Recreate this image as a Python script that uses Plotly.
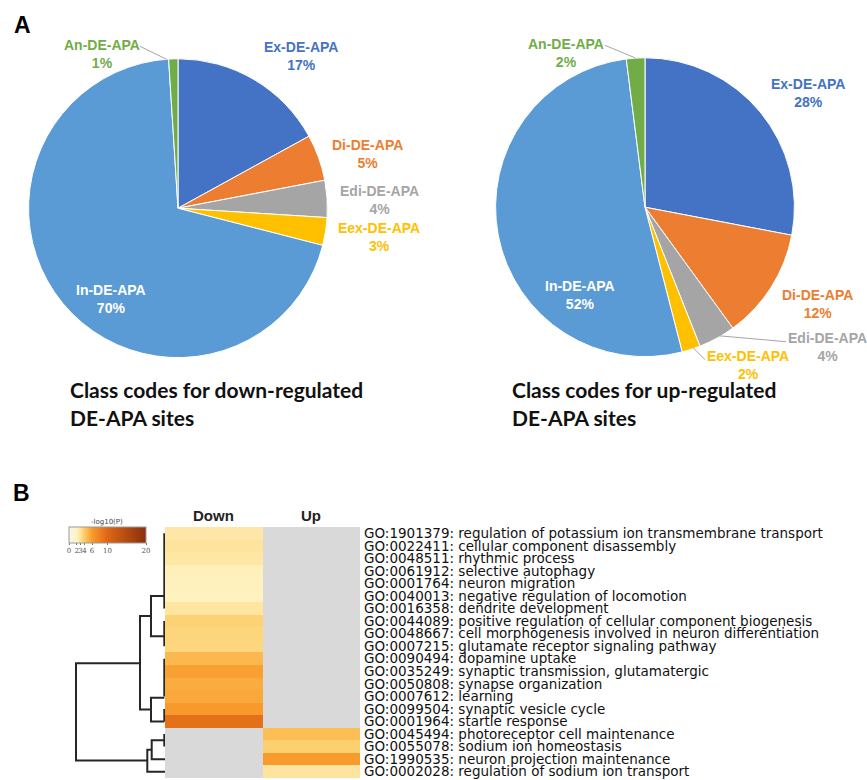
import plotly.graph_objects as go

W, H = 867, 780


def fx(px):
    return px / W


def fy(py):
    return 1 - py / H


# ---- Panel A: class codes of DE-APA sites ----
classes = ["Ex-DE-APA", "Di-DE-APA", "Edi-DE-APA", "Eex-DE-APA", "In-DE-APA", "An-DE-APA"]
class_colors = ["#4472C4", "#ED7D31", "#A5A5A5", "#FFC000", "#5B9BD5", "#70AD47"]
label_colors = ["#4472C4", "#ED7D31", "#A5A5A5", "#FFC000", "#FFFFFF", "#70AD47"]
down_pct = [17, 5, 4, 3, 70, 1]
up_pct = [28, 12, 4, 2, 52, 2]

# ---- Panel B: GO enrichment heatmap (-log10 P) ----
go_terms = [
    "GO:1901379: regulation of potassium ion transmembrane transport",
    "GO:0022411: cellular component disassembly",
    "GO:0048511: rhythmic process",
    "GO:0061912: selective autophagy",
    "GO:0001764: neuron migration",
    "GO:0040013: negative regulation of locomotion",
    "GO:0016358: dendrite development",
    "GO:0044089: positive regulation of cellular component biogenesis",
    "GO:0048667: cell morphogenesis involved in neuron differentiation",
    "GO:0007215: glutamate receptor signaling pathway",
    "GO:0090494: dopamine uptake",
    "GO:0035249: synaptic transmission, glutamatergic",
    "GO:0050808: synapse organization",
    "GO:0007612: learning",
    "GO:0099504: synaptic vesicle cycle",
    "GO:0001964: startle response",
    "GO:0045494: photoreceptor cell maintenance",
    "GO:0055078: sodium ion homeostasis",
    "GO:1990535: neuron projection maintenance",
    "GO:0002028: regulation of sodium ion transport",
]
groups = ["Down", "Up"]
down_logp = [2.75, 3.0, 2.8, 2.3, 2.15, 2.1, 2.9, 3.7, 3.6, 3.55,
             4.8, 5.8, 5.3, 5.45, 6.1, 9.2, None, None, None, None]
up_logp = [None] * 16 + [4.5, 3.8, 6.0, 2.95]
cbar_ticks = [0, 2, 3, 4, 6, 10, 20]

# dendrogram: flat leaf groups (first row, last row, height) and
# merges (row_a, height_a, row_b, height_b, merge height)
leaf_groups = [(1, 7, 0.7), (8, 10, 0.7), (11, 14, 0.7), (15, 16, 0.7), (17, 18, 0.7)]
merges = [
    (6.0, 0.7, 9.2, 0.7, 14.0),
    (14.1, 0.7, 16.0, 0.7, 14.0),
    (7.6, 14.0, 15.05, 14.0, 25.0),
    (17.5, 0.7, 19.0, 0.0, 13.3),
    (18.25, 13.3, 20.0, 0.0, 17.7),
    (11.35, 25.0, 19.1, 17.7, 89.0),
]

fig = go.Figure()

# pies
for vals, (x0, x1, y0, y1) in [(down_pct, (28, 328, 57, 357)), (up_pct, (495, 795, 56, 356))]:
    fig.add_trace(go.Pie(
        labels=classes, values=vals, sort=False, direction="clockwise", rotation=0,
        marker=dict(colors=class_colors, line=dict(color="white", width=1)),
        textinfo="none", hoverinfo="label+percent", showlegend=False,
        domain=dict(x=[fx(x0), fx(x1)], y=[fy(y1), fy(y0)]),
    ))

annotations = []
shapes = []

# pie labels (centre of each two-line label)
left_label_pos = [(301, 54), (367, 152.5), (379, 199), (379, 236), (111, 298.5), (102, 52)]
right_label_pos = [(808, 91), (817.5, 303.5), (827, 346.5), (748, 364.5), (580, 294), (565.5, 51)]
for vals, positions in [(down_pct, left_label_pos), (up_pct, right_label_pos)]:
    for name, v, col, (px, py) in zip(classes, vals, label_colors, positions):
        annotations.append(dict(
            x=fx(px), y=fy(py), xref="paper", yref="paper", showarrow=False,
            text=f"<b>{name}</b><br><b>{v}%</b>", align="center",
            font=dict(family="Liberation Sans, Arial", size=14, color=col),
            xanchor="center", yanchor="middle",
        ))

# leader lines
for (ax0, ay0, ax1, ay1) in [(140, 44.5, 166.5, 57.5), (605, 43.5, 635, 56),
                             (718, 335, 786, 341), (693, 347, 705, 359)]:
    shapes.append(dict(type="line", xref="paper", yref="paper",
                       x0=fx(ax0), y0=fy(ay0), x1=fx(ax1), y1=fy(ay1),
                       line=dict(color="#A6A6A6", width=1)))

# pie captions
for px, lines in [(68, ["Class codes for down-regulated", "DE-APA sites"]),
                  (510, ["Class codes for up-regulated", "DE-APA sites"])]:
    for i, t in enumerate(lines):
        annotations.append(dict(
            x=fx(px), y=fy(389 + 28 * i), xref="paper", yref="paper", showarrow=False,
            text=f"<b>{t}</b>", xanchor="left", yanchor="middle",
            font=dict(family="Lato, Carlito, sans-serif", size=21, color="#111111"),
        ))

# panel letters
for letter, (px, py) in [("A", (22, 23)), ("B", (21, 493))]:
    annotations.append(dict(
        x=fx(px), y=fy(py), xref="paper", yref="paper", showarrow=False,
        text=f"<b>{letter}</b>", xanchor="center", yanchor="middle",
        font=dict(family="Liberation Sans, Arial", size=23, color="black"),
    ))

# heatmap
rows = list(range(1, len(go_terms) + 1))
z = [[d, u] for d, u in zip(down_logp, up_logp)]
colorscale = [
    [0.00, "#F7F5E8"],
    [0.10, "#FFF4C4"],
    [0.15, "#FEE39C"],
    [0.20, "#FDCB64"],
    [0.30, "#F99B2C"],
    [0.50, "#DE6616"],
    [1.00, "#8A2E0C"],
]
fig.add_trace(go.Heatmap(
    z=z, x=[0, 1], y=rows, zmin=0, zmax=20, colorscale=colorscale,
    xaxis="x", yaxis="y", hoverongaps=False,
    colorbar=dict(
        orientation="h", x=fx(69), xanchor="left", y=fy(527), yanchor="top",
        lenmode="pixels", len=77, thickness=16, xpad=0, ypad=0,
        outlinewidth=1, outlinecolor="#9A9A9A",
        tickvals=cbar_ticks, ticktext=[str(t) for t in cbar_ticks],
        ticks="outside", ticklen=2, tickcolor="#777777", tickangle=0,
        tickfont=dict(family="DejaVu Serif", size=7, color="#555555"),
    ),
))
# colour bar title
annotations.append(dict(
    x=fx(107), y=fy(522), xref="paper", yref="paper", showarrow=False,
    text="-log10(P)", xanchor="center", yanchor="middle",
    font=dict(family="DejaVu Sans", size=7, color="#444444"),
))

# grey background for terms not enriched in a group
shapes.append(dict(type="rect", xref="x", yref="y", x0=-0.5, x1=1.5, y0=0.5, y1=20.5,
                   fillcolor="#D9D9D9", line=dict(width=0), layer="below"))

for i, g in enumerate(groups):
    annotations.append(dict(
        x=i, y=fy(515), xref="x", yref="paper", showarrow=False,
        text=f"<b>{g}</b>", xanchor="center", yanchor="middle",
        font=dict(family="Liberation Sans, Arial", size=15, color="#222222"),
    ))

# dendrogram
dx, dy = [], []
for r0, r1, h in leaf_groups:
    dx += [h, h, None]
    dy += [r0, r1, None]
for ra, ha, rb, hb, h in merges:
    dx += [ha, h, h, hb, None]
    dy += [ra, ra, rb, rb, None]
fig.add_trace(go.Scatter(
    x=dx, y=dy, mode="lines", xaxis="x2", yaxis="y2",
    line=dict(color="#262626", width=2), hoverinfo="skip", showlegend=False,
))

fig.update_layout(
    width=W, height=H, margin=dict(l=0, r=0, t=0, b=0),
    paper_bgcolor="white", plot_bgcolor="white",
    annotations=annotations, shapes=shapes,
    xaxis=dict(domain=[fx(165), fx(360)], range=[-0.5, 1.5], visible=False, fixedrange=True),
    yaxis=dict(domain=[fy(779), fy(527)], range=[20.5, 0.5], side="right",
               tickvals=rows, ticktext=go_terms, ticks="", showgrid=False,
               zeroline=False, showline=False, ticklabelstandoff=3,
               ticklabeloverflow="allow",
               tickfont=dict(family="DejaVu Sans", size=13.5, color="#111111")),
    xaxis2=dict(domain=[fx(0), fx(165)], range=[165, 0], visible=False),
    yaxis2=dict(domain=[fy(779), fy(527)], range=[20.5, 0.5], visible=False, anchor="x2"),
)

fig.write_html("out.html")
